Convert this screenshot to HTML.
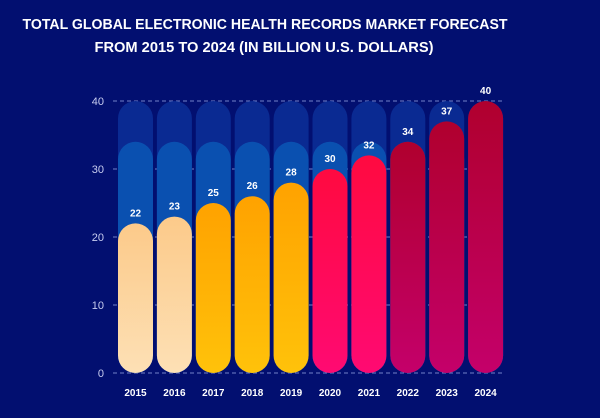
<!DOCTYPE html>
<html><head><meta charset="utf-8"><style>
html,body{margin:0;padding:0;background:#020f70;}
svg{display:block;font-family:"Liberation Sans",sans-serif;}
</style></head><body>
<svg id="chart" width="600" height="418" viewBox="0 0 600 418">
<defs>
<linearGradient id="gPeach" x1="0" y1="0" x2="0" y2="1"><stop offset="0" stop-color="#fcca8a"/><stop offset="1" stop-color="#fde0b5"/></linearGradient>
<linearGradient id="gOrange" x1="0" y1="0" x2="0" y2="1"><stop offset="0" stop-color="#ffa200"/><stop offset="1" stop-color="#ffc20a"/></linearGradient>
<linearGradient id="gRed" x1="0" y1="0" x2="0" y2="1"><stop offset="0" stop-color="#ff0a40"/><stop offset="1" stop-color="#ff0a72"/></linearGradient>
<linearGradient id="gCrim" x1="0" y1="0" x2="0" y2="1"><stop offset="0" stop-color="#b0002e"/><stop offset="1" stop-color="#c4006a"/></linearGradient>
</defs>
<rect width="600" height="418" fill="#020f70"/>
<text x="265" y="29" text-anchor="middle" fill="#fff" font-size="14.5" font-weight="bold" textLength="485" lengthAdjust="spacingAndGlyphs">TOTAL GLOBAL ELECTRONIC HEALTH RECORDS MARKET FORECAST</text>
<text x="264" y="52" text-anchor="middle" fill="#fff" font-size="14.5" font-weight="bold" textLength="339" lengthAdjust="spacingAndGlyphs">FROM 2015 TO 2024 (IN BILLION U.S. DOLLARS)</text>
<g id="grid"></g><g id="bg"></g><g id="bars"></g><g id="labels"></g>
</svg>
<script>
const categories=["2015","2016","2017","2018","2019","2020","2021","2022","2023","2024"];
const values=[22,23,25,26,28,30,32,34,37,40];
const yTicks=[0,10,20,30,40];
const fills=["gPeach","gPeach","gOrange","gOrange","gOrange","gRed","gRed","gCrim","gCrim","gCrim"];
const NS="http://www.w3.org/2000/svg";
const y0=373,pxPer=6.8,x0=118,step=38.9,bw=35;
const yS=v=>y0-v*pxPer;
const xS=i=>x0+i*step;
function mk(t,a,p){const e=document.createElementNS(NS,t);for(const k in a)e.setAttribute(k,a[k]);p.appendChild(e);return e;}
const grid=document.getElementById('grid'),bg=document.getElementById('bg'),bars=document.getElementById('bars'),lab=document.getElementById('labels');
yTicks.forEach(t=>{
  const l=mk('line',{x1:113,x2:505,y1:yS(t),y2:yS(t),stroke:'#8f9ee0','stroke-width':1,'stroke-dasharray':'4,3',opacity:0.8},grid);
  
  
  const tx=mk('text',{x:104,y:yS(t)+4,'text-anchor':'end',fill:'#c8cdf0','font-size':11},lab);
  tx.textContent=t;
  
  
});
categories.forEach((c,i)=>{
  const x=xS(i);
  const d=mk('rect',{x:x,y:yS(40),width:bw,height:y0-yS(40),rx:bw/2,fill:'#0a2a92'},bg);
  
  
  const m=mk('rect',{x:x,y:yS(34),width:bw,height:y0-yS(34),rx:bw/2,fill:'#0a50b0'},bg);
  
  
  const b=mk('rect',{x:x,y:yS(values[i]),width:bw,height:y0-yS(values[i]),rx:bw/2,fill:'url(#'+fills[i]+')'},bars);
  
  
  const v=mk('text',{x:x+bw/2,y:yS(values[i])-7,'text-anchor':'middle',fill:'#fff','font-size':10,'font-weight':'bold'},lab);
  v.textContent=values[i];
  
  
  const xl=mk('text',{x:x+bw/2,y:396,'text-anchor':'middle',fill:'#fff','font-size':10,'font-weight':'bold'},lab);
  xl.textContent=c;
  
  
});
</script>
</body></html>
